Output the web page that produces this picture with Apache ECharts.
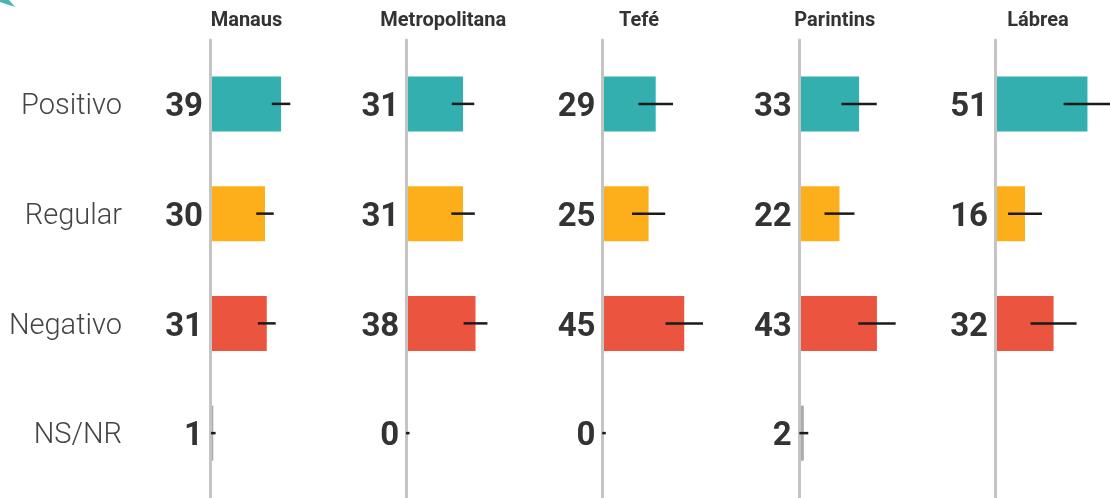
<!DOCTYPE html>
<html>
<head>
<meta charset="utf-8">
<script src="https://cdn.jsdelivr.net/npm/echarts@6/dist/echarts.min.js"></script>
<style>
html,body{margin:0;padding:0;background:#fff;}
#chart{width:1110px;height:498px;}
</style>
</head>
<body>
<div id="chart"></div>
<script>
var categories = ['Positivo', 'Regular', 'Negativo', 'NS/NR'];
var regions = ['Manaus', 'Metropolitana', 'Tefé', 'Parintins', 'Lábrea'];

var manausValues = [39, 30, 31, 1];
var manausErrors = [5.2, 4.9, 5.0, 1.3];
var metroValues = [31, 31, 38, 0];
var metroErrors = [6.3, 6.6, 6.7, 1.0];
var tefeValues = [29, 25, 45, 0];
var tefeErrors = [9.7, 9.3, 10.5, 1.0];
var parintinsValues = [33, 22, 43, 2];
var parintinsErrors = [9.9, 8.4, 10.5, 2.5];
var labreaValues = [51, 16, 32, null];
var labreaErrors = [13.4, 9.5, 12.9, null];

var allValues = [manausValues, metroValues, tefeValues, parintinsValues, labreaValues];
var allErrors = [manausErrors, metroErrors, tefeErrors, parintinsErrors, labreaErrors];
var rowColors = ['#34afaf', '#fdae1b', '#eb5540', '#aaaaaa'];

var chart = echarts.init(document.getElementById('chart'));

var grids = [], xAxes = [], yAxes = [], series = [], titles = [];
var panelStart = 210, panelStep = 196.25, panelWidth = 107;
var titleOffsets = [31.5, 32, 31.5, 31, 38];

regions.forEach(function (name, i) {
  var axisX = panelStart + i * panelStep;
  // data grid (bars start just right of the axis line)
  grids.push({ left: axisX + 1.5, top: 49, width: panelWidth, height: 439, containLabel: false });
  // companion grid (axis line only)
  grids.push({ left: axisX, top: 40, width: panelWidth, bottom: 0, containLabel: false });
  var g = i * 2;
  xAxes.push({ gridIndex: g, type: 'value', min: 0, max: 60, show: false });
  xAxes.push({ gridIndex: g + 1, type: 'value', min: 0, max: 60, show: false });
  yAxes.push({
    gridIndex: g, type: 'category', data: categories, inverse: true,
    axisLine: { show: false }, axisTick: { show: false }, splitLine: { show: false },
    axisLabel: {
      show: i === 0, margin: 89.5,
      formatter: function (v) { return '{c|' + v + '}'; },
      rich: {
        c: {
          fontFamily: 'Roboto', fontWeight: 300, fontSize: 29, color: '#444',
          padding: [6, 0, 0, 0]
        }
      }
    }
  });
  yAxes.push({
    gridIndex: g + 1, type: 'value', min: 0, max: 1, z: 3,
    axisLine: { show: true, lineStyle: { color: '#c4c4c4', width: 3 } },
    axisTick: { show: false }, axisLabel: { show: false }, splitLine: { show: false }
  });

  var vals = allValues[i];
  var errs = allErrors[i];
  series.push({
    type: 'bar', xAxisIndex: g, yAxisIndex: g, barWidth: 55, z: 2,
    data: vals.map(function (v, k) {
      return { value: v, itemStyle: { color: rowColors[k] } };
    }),
    label: {
      show: true, position: 'left', distance: 8.5, offset: [0, 4],
      fontFamily: 'Roboto', fontWeight: 'bold', fontSize: 33, color: '#333',
      formatter: function (p) { return p.value == null ? '' : String(p.value); }
    }
  });
  series.push({
    type: 'custom', xAxisIndex: g, yAxisIndex: g, z: 5, clip: false,
    data: vals.map(function (v, k) { return [v, k, errs[k]]; }),
    renderItem: function (params, api) {
      var v = api.value(0), e = api.value(2);
      if (v == null || isNaN(v) || e == null || isNaN(e)) return null;
      var c = api.value(1);
      var p1 = api.coord([v - e, c]);
      var p2 = api.coord([v + e, c]);
      return {
        type: 'line',
        shape: { x1: p1[0], y1: p1[1], x2: p2[0], y2: p2[1] },
        style: { stroke: '#1a1a1a', lineWidth: 2.5 }
      };
    }
  });
  titles.push({
    text: name, left: axisX + titleOffsets[i], top: 6, textAlign: 'center',
    textStyle: { fontFamily: 'Roboto', fontWeight: 'bold', fontSize: 20, color: '#333' }
  });
});

chart.setOption({
  animation: false,
  backgroundColor: '#fff',
  title: titles,
  grid: grids,
  xAxis: xAxes,
  yAxis: yAxes,
  series: series,
  graphic: [{
    type: 'polygon', left: 0, top: 0,
    shape: { points: [[0, 0], [9, 0], [15, 7], [0, 2]] },
    style: { fill: '#2aa6a6', opacity: 0.85 }
  }]
});
</script>
</body>
</html>
